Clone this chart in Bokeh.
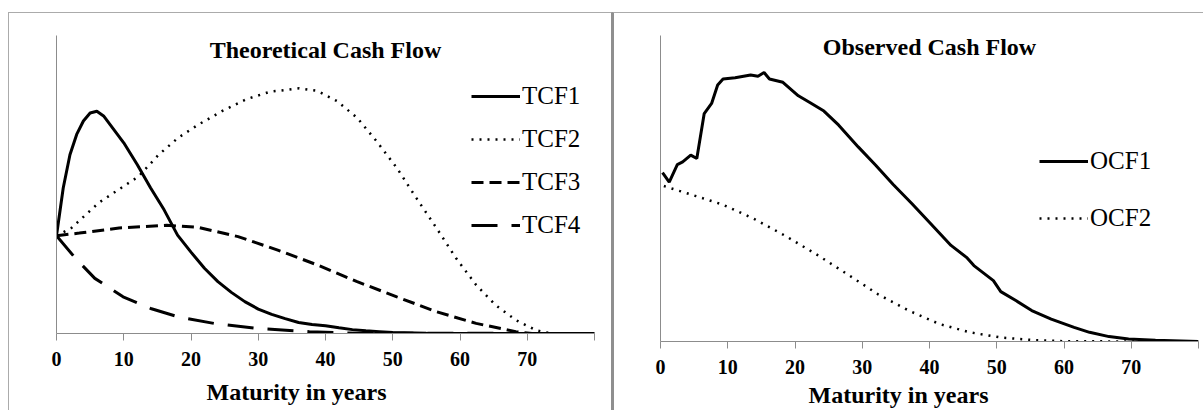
from bokeh.plotting import figure
from bokeh.models import Range1d, FixedTicker, Legend, LegendItem, Label, Spacer, Title
from bokeh.layouts import row, column
from bokeh.embed import file_html
from bokeh.resources import INLINE

# ---------------- data (y in % of plot height) -------------
years_ticks = [0, 10, 20, 30, 40, 50, 60, 70, 80]
tick_labels = {0: "0", 10: "10", 20: "20", 30: "30", 40: "40", 50: "50", 60: "60", 70: "70", 80: ""}

tcf1_x = [0, 1, 2, 3, 4, 5, 6, 7, 8, 9, 10, 12, 14, 16, 18, 20, 22, 24, 26, 28, 30, 32, 34, 36,
          38, 40, 42, 44, 46, 48, 50, 55, 60, 70, 80]
tcf1_y = [32.8, 48.8, 60, 66.8, 71.3, 74, 74.6, 73, 70, 67, 64, 56.7, 48.8, 41.5, 33, 27.3, 21.9,
          17.4, 13.8, 10.7, 8.2, 6.4, 5, 3.7, 3, 2.6, 1.9, 1.3, 0.9, 0.6, 0.3, 0.1, 0, 0, 0]

tcf2_x = [0, 2.2, 6.3, 12.2, 15.2, 18.1, 21.1, 24.6, 28.2, 31.7, 36.1, 38.8, 41.7, 44.7, 47.6,
          50.6, 53.5, 56.5, 59.4, 62.4, 65.3, 68.3, 71.3, 73.6, 80]
tcf2_y = [32.8, 35.4, 43.9, 52.7, 60, 65.7, 70.1, 74.6, 78.6, 81.1, 82.3, 81.4, 78, 72.4, 64.5,
          55.6, 45.5, 35.4, 25.3, 16.3, 9.5, 4.5, 1.1, 0, 0]

tcf3_x = [0, 3.4, 9.3, 16.4, 21.1, 27, 32.9, 38.8, 44.7, 50.6, 56.5, 62.4, 68.3, 70.7, 80]
tcf3_y = [32.8, 33.7, 35.4, 36.3, 35.6, 32.5, 28, 23, 17.4, 12.3, 7.3, 3.4, 0.6, 0, 0]

tcf4_x = [0, 2.8, 5.7, 9.9, 14, 18.1, 23.4, 29.9, 37.6, 44.7, 80]
tcf4_y = [32.8, 25.3, 18.5, 12.3, 8.4, 5.6, 3.4, 1.7, 0.6, 0.1, 0]

ocf1_x = [0.3, 1.3, 2.5, 3.3, 4.5, 5.4, 6.5, 7.6, 8.5, 9.3, 11.1, 13.4, 14.5, 15.4, 16.2, 18.2,
          20.5, 22.2, 24.3, 26.5, 29.4, 32, 34.6, 37.4, 39.7, 43.2, 45.5, 46.6, 49.5, 50.6, 52.9,
          55.2, 58.1, 61.5, 63.8, 66.7, 69.6, 73.6, 80]
ocf1_y = [55.2, 52.1, 57.8, 58.7, 60.9, 59.8, 74.5, 77.8, 83.8, 85.8, 86.2, 87.1, 86.7, 87.9,
          85.8, 84.7, 80.3, 78.1, 75.3, 70.7, 63.6, 57.6, 51.3, 45, 39.6, 31.4, 27.5, 24.8, 19.9,
          16.3, 13.3, 10.1, 7.3, 4.6, 3, 1.6, 0.8, 0.4, 0]

ocf2_x = [0.5, 5.3, 9.3, 13.9, 18.5, 23.1, 27.7, 32.3, 36.9, 41.5, 46, 50.6, 55.2, 59.8, 70, 80]
ocf2_y = [50.8, 47.5, 44.7, 40.1, 34.6, 28.6, 22.1, 15.5, 10.1, 5.7, 3, 1.3, 0.5, 0.1, 0, 0]

left_title = "Theoretical Cash Flow"
right_title = "Observed Cash Flow"
x_title = "Maturity in years"

SERIF = "Liberation Serif"
AXIS_GRAY = "#8c8c8c"
H = 398          # figure height (page rows 12..410)
CANVAS_H = H - 1  # minus top border


def make_fig(width, mb_left, mb_right, mb_top, mb_bottom, gap):
    p = figure(width=width, height=H, output_backend="svg", toolbar_location=None,
               x_range=Range1d(0, 80), y_range=Range1d(0, 100),
               min_border_left=mb_left, min_border_right=mb_right,
               min_border_top=mb_top, min_border_bottom=mb_bottom)
    p.frame_align = False
    p.grid.visible = False
    p.outline_line_color = None
    p.background_fill_color = "white"
    p.border_fill_color = "white"
    xa = p.xaxis[0]
    xa.ticker = FixedTicker(ticks=years_ticks)
    xa.major_label_overrides = tick_labels
    xa.axis_line_color = AXIS_GRAY
    xa.major_tick_line_color = AXIS_GRAY
    xa.major_tick_in = 0
    xa.major_tick_out = 7
    xa.minor_tick_line_color = None
    xa.major_label_text_font = SERIF
    xa.major_label_text_font_style = "bold"
    xa.major_label_text_font_size = "20px"
    xa.major_label_text_color = "black"
    xa.major_label_standoff = 11
    # invisible spacer label: pushes the axis title (added below) a few px down
    xa.axis_label = " "
    xa.axis_label_text_font_size = "1px"
    xa.axis_label_standoff = gap
    ya = p.yaxis[0]
    ya.ticker = FixedTicker(ticks=[])
    ya.axis_line_color = AXIS_GRAY
    ya.major_tick_line_color = None
    ya.minor_tick_line_color = None
    ya.major_label_text_font_size = "0px"
    return p


def add_title(p, text, x, y_from_frame_bottom):
    p.add_layout(Label(x=x, y=y_from_frame_bottom, x_units="data", y_units="screen", text=text,
                       text_font=SERIF, text_font_size="24px", text_font_style="bold",
                       text_align="center", text_baseline="alphabetic", text_color="black"))


def add_axis_title(p, text, offset):
    p.add_layout(Title(text=text, align="left", offset=offset, vertical_align="top",
                       standoff=0, text_font=SERIF, text_font_size="24px",
                       text_font_style="bold", text_color="black"), "below")


def make_legend(items, loc, spacing):
    return Legend(items=items, location=loc, border_line_color=None, background_fill_alpha=0,
                  label_text_font=SERIF, label_text_font_size="25px", label_text_color="black",
                  glyph_width=49, glyph_height=28, label_height=28, spacing=spacing,
                  padding=0, margin=0, label_standoff=2)


# ---------------- left panel ----------------
p1 = make_fig(604, 47, 19, 22, CANVAS_H - 22 - 297, 6)
r1 = p1.line(tcf1_x, tcf1_y, line_color="black", line_width=3)
r2 = p1.line(tcf2_x, tcf2_y, line_color="black", line_width=2.5, line_dash="2 6")
r3 = p1.line(tcf3_x, tcf3_y, line_color="black", line_width=3, line_dash="12 6")
r4 = p1.line(tcf4_x, tcf4_y, line_color="black", line_width=3, line_dash="26 14")
p1.add_layout(make_legend([LegendItem(label="TCF1", renderers=[r1]),
                           LegendItem(label="TCF2", renderers=[r2]),
                           LegendItem(label="TCF3", renderers=[r3]),
                           LegendItem(label="TCF4", renderers=[r4])], (415, 94), 15))
add_title(p1, left_title, 40, 284)
add_axis_title(p1, x_title, 150)
p1.styles = {"border-top": "1px solid #ababab", "border-left": "1px solid #ababab",
             "border-right": "1px solid #8f8f8f", "box-sizing": "border-box"}

# ---------------- right panel ----------------
p2 = make_fig(591, 46, 7, 22, CANVAS_H - 22 - 305, 1)
s1 = p2.line(ocf1_x, ocf1_y, line_color="black", line_width=3)
s2 = p2.line(ocf2_x, ocf2_y, line_color="black", line_width=2.5, line_dash="2 6")
p2.add_layout(make_legend([LegendItem(label="OCF1", renderers=[s1]),
                           LegendItem(label="OCF2", renderers=[s2])], (379, 109), 29))
add_title(p2, right_title, 40, 295)
add_axis_title(p2, x_title, 148)
p2.styles = {"border-top": "1px solid #ababab", "border-left": "2px solid #8f8f8f",
             "box-sizing": "border-box"}

layout = column(Spacer(height=12, width=10),
                row(Spacer(width=8, height=10), p1, p2, spacing=0),
                spacing=0)

open("out.html", "w").write(file_html(layout, INLINE))
